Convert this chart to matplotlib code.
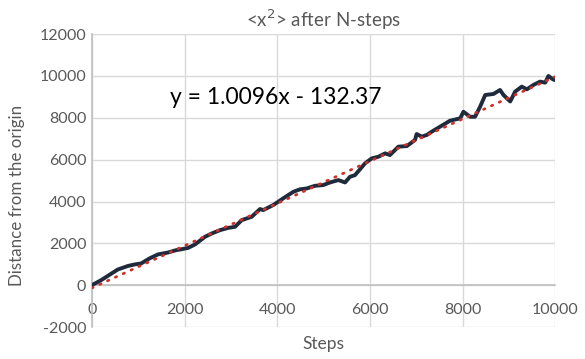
import numpy as np
import matplotlib
matplotlib.use("Agg")
import matplotlib.pyplot as plt

plt.rcParams['font.family'] = ['Lato', 'DejaVu Sans']
plt.rcParams['axes.unicode_minus'] = False

# mean squared displacement read along the walk
steps = [0, 200, 560, 780, 920, 1065, 1245, 1425, 1640, 1820, 1940, 2080, 2225,
         2440, 2585, 2765, 2945, 3090, 3235, 3450, 3630, 3700, 3915, 4130, 4350,
         4490, 4640, 4815, 4995, 5140, 5320, 5465, 5570, 5680, 5895, 6040, 6185,
         6330, 6435, 6615, 6800, 6975, 7010, 7120, 7230, 7335, 7515, 7730, 7950,
         8020, 8165, 8270, 8380, 8490, 8670, 8810, 8885, 9030, 9135, 9280, 9390,
         9530, 9675, 9785, 9855, 9950, 10000]
msd = [0, 240, 750, 920, 990, 1040, 1280, 1470, 1560, 1675, 1720, 1785, 1945,
       2310, 2470, 2630, 2740, 2790, 3110, 3270, 3640, 3590, 3830, 4150, 4465,
       4580, 4625, 4750, 4785, 4910, 5025, 4910, 5180, 5260, 5820, 6060, 6140,
       6300, 6220, 6620, 6650, 6940, 7225, 7100, 7180, 7335, 7575, 7860, 7975,
       8290, 8050, 8050, 8530, 9090, 9140, 9330, 9090, 8780, 9250, 9490, 9360,
       9570, 9730, 9680, 10000, 9840, 9800]

# linear trendline
slope, intercept = 1.0096, -132.37

grey = '#595959'
fig = plt.figure(figsize=(5.85, 3.59), dpi=100)
ax = fig.add_axes([0.157, 0.089, 0.792, 0.816])

ax.plot(steps, msd, color='#1f2a3c', lw=2.8, solid_joinstyle='round', zorder=3)
xs = np.array([0, 10000])
ax.plot(xs, slope * xs + intercept, color='#d0302a', lw=2.0,
        linestyle=(0, (0.5, 2.6)), dash_capstyle='round', zorder=4)

ax.set_xlim(0, 10000)
ax.set_ylim(-2000, 12000)
ax.set_xticks(range(0, 10001, 2000))
ax.set_yticks(range(-2000, 12001, 2000))
ax.grid(True, color='#d9d9d9', lw=1)
ax.set_axisbelow(True)

for s in ['top', 'right']:
    ax.spines[s].set_visible(False)
ax.spines['left'].set_color('#bfbfbf')
ax.spines['bottom'].set_color('#bfbfbf')
ax.spines['left'].set_linewidth(1.2)
ax.spines['bottom'].set_linewidth(1.2)
ax.spines['bottom'].set_position(('data', 0))
ax.tick_params(length=0, labelsize=11.5, colors=grey, pad=4)
ax.tick_params(axis='x', pad=13)

ax.set_title('<x$^2$> after N-steps', color=grey, fontsize=13.5, pad=5)
ax.set_xlabel('Steps', color=grey, fontsize=12.5)
ax.set_ylabel('Distance from the origin', color=grey, fontsize=12.2)
ax.xaxis.set_label_coords(0.5, -0.03)
ax.yaxis.set_label_coords(-0.145, 0.45)

ax.text(1690, 8950, 'y = 1.0096x - 132.37', fontsize=16.5, color='black',
        va='center', ha='left')

fig.savefig('out.png', dpi=100)
